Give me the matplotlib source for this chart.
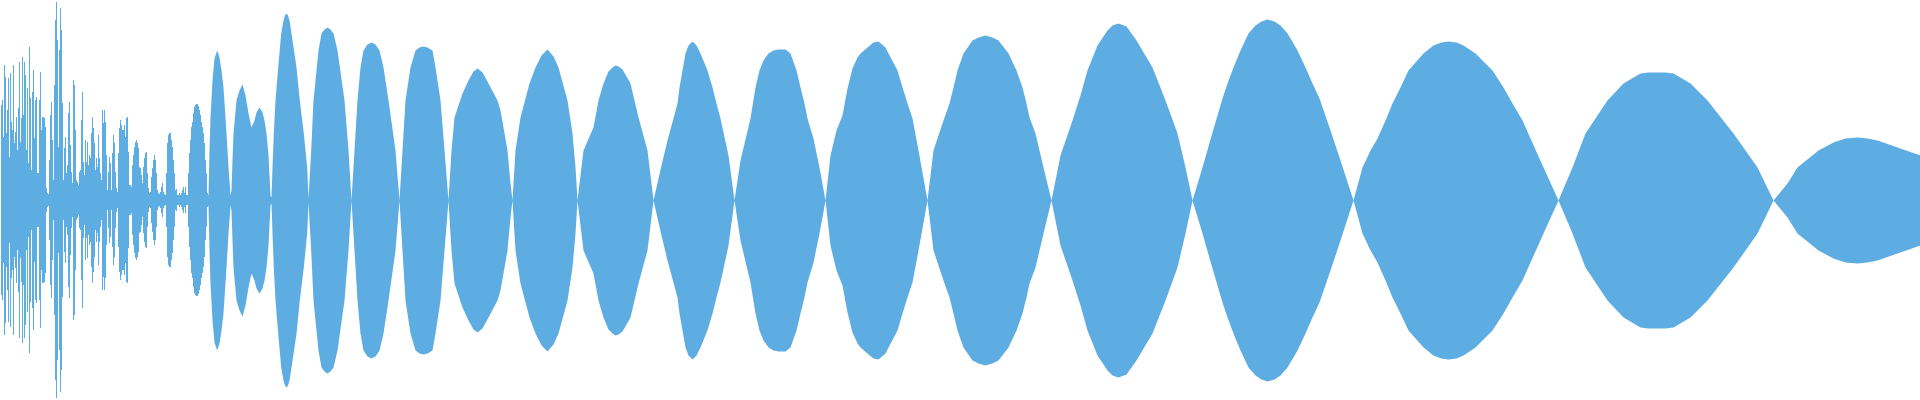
# waveform strip - mirrored amplitude envelope, no axes
# left part is raw per-column peaks, right part is the smooth lobes

import numpy as np
import matplotlib
matplotlib.use("Agg")
import matplotlib.pyplot as plt

WAVE_COLOR = "#5dade2"

# per-column peak amplitude for the first 208 columns (noisy onset)
column_amp = [
    55, 95, 100, 63, 135, 123, 67, 90, 122, 43, 127, 78, 70, 135, 57, 68, 83, 50, 92, 138,
    58, 82, 143, 85, 138, 125, 50, 112, 37, 153, 102, 30, 108, 130, 62, 100, 103, 27, 27, 100,
    128, 70, 83, 83, 82, 73, 12, 7, 6, 40, 85, 98, 60, 20, 115, 180, 198, 160, 53, 150,
    192, 170, 97, 20, 52, 63, 27, 35, 87, 98, 55, 28, 17, 120, 115, 70, 20, 18, 15, 28,
    30, 80, 108, 38, 25, 60, 38, 58, 35, 45, 42, 67, 83, 72, 57, 30, 42, 33, 65, 42,
    27, 20, 90, 77, 90,
    78, 45, 10, 28, 43, 37, 10, 47, 65, 57, 28, 12, 8, 47, 72, 80, 75, 70, 70, 75,
    63, 82, 83, 48, 15, 15, 13, 35, 45, 53, 58, 60, 57, 52, 33, 32, 25, 17, 33, 42,
    47, 48, 27, 12, 7, 8, 23, 32, 40, 45, 40, 27, 10, 7, 6, 8, 13, 17, 8, 6,
    5, 27, 57, 65, 67, 67, 60, 53, 40, 27, 10, 11, 5, 5, 7, 5, 7, 10, 13, 7,
    13, 5, 5, 27, 47, 60, 73, 78, 87, 93, 95, 96, 96, 94, 90, 85, 78, 73, 67, 57,
    40, 27, 7,
]

# smooth lobes: envelope points (column, amplitude)
lobe_x = [
    207, 208, 209, 210, 212, 214, 216.7, 219, 221, 223, 226, 228, 230,
    231, 232, 233, 236, 239, 242, 245, 248, 251, 254, 256, 259, 262, 264, 266, 268, 270,
    271, 272, 273.3, 275, 277.7, 280.7, 283, 284.5, 286, 287.5, 289, 291, 296, 299.3, 303.3, 306.7, 308,
    310.7, 313, 318, 321, 324, 327, 330, 333, 337, 344, 348, 351,
    354, 357, 360, 363, 367, 371, 375, 379, 383, 388, 395, 399,
    402, 405, 410, 415, 419, 423, 427, 432, 435, 440, 444, 448,
    451, 454, 462, 468, 473, 477, 482, 488, 497, 500, 507, 510, 512,
    515, 520, 529, 535, 541, 547, 553, 558, 567, 572, 575, 577,
    583, 593, 598, 603, 608, 612, 615, 618, 622, 630, 638, 647, 653,
    661, 667, 673, 677, 679, 682, 685, 688, 692, 696, 700, 707, 712, 716, 720, 728, 734,
    740, 750, 755, 759, 763, 768, 773, 778, 785, 790, 796, 800, 804, 807, 813, 819, 825,
    830, 836, 842, 847, 852, 857, 860, 867, 873, 878, 885, 888, 897, 902, 907, 912, 918, 927,
    933, 943, 949, 953, 957, 963, 972, 978, 985, 992, 998, 1008, 1016, 1022, 1026, 1029, 1035, 1043, 1051,
    1060, 1072, 1080, 1087, 1097, 1107, 1112, 1118, 1126, 1136, 1152, 1165, 1177, 1185, 1192,
    1202, 1212, 1222, 1227, 1233, 1240, 1248, 1255, 1261, 1267, 1274, 1280, 1287, 1297, 1305, 1312, 1319, 1330, 1340, 1353,
    1362, 1370, 1377, 1385, 1392, 1400, 1408, 1423, 1433, 1441, 1448, 1456, 1463, 1475, 1492, 1503, 1512, 1522, 1530, 1543, 1558,
    1572, 1585, 1607, 1623, 1640, 1648, 1657, 1665, 1673, 1690, 1707, 1733, 1757, 1773,
    1787, 1797, 1818, 1833, 1845, 1857, 1867, 1877, 1897, 1920,
]
lobe_amp = [
    7, 5, 50, 83, 120, 142, 150, 143, 130, 113, 67, 33, 5,
    10, 40, 67, 100, 110, 116, 105, 87, 73, 80, 88, 93, 88, 80, 67, 45, 5,
    3, 33, 67, 100, 133, 167, 180, 185, 187, 185, 180, 167, 133, 100, 67, 33, 2,
    50, 100, 150, 167, 171, 173, 171, 167, 150, 100, 50, 0,
    50, 100, 133, 150, 156, 158, 156, 150, 133, 100, 50, 0,
    50, 100, 133, 150, 153, 154, 153, 150, 133, 100, 50, 0,
    50, 83, 107, 120, 129, 132, 128, 117, 100, 90, 50, 17, 0,
    50, 83, 117, 133, 145, 151, 144, 133, 100, 67, 33, 0,
    50, 73, 100, 117, 129, 133, 135, 134, 131, 117, 83, 50, 0,
    35, 60, 82, 97, 113, 130, 147, 155, 159, 155, 147, 130, 113, 97, 82, 45, 0,
    40, 82, 113, 130, 140, 147, 150, 151, 151, 147, 130, 113, 97, 82, 62, 33, 0,
    45, 70, 85, 112, 132, 143, 147, 153, 158, 159, 153, 147, 130, 113, 97, 82, 50, 0,
    50, 80, 97, 113, 130, 147, 160, 163, 165, 163, 160, 147, 130, 113, 97, 83, 67, 33, 0,
    45, 80, 105, 130, 155, 170, 175, 177, 174, 160, 133, 100, 67, 33, 0,
    33, 68, 102, 117, 133, 150, 167, 175, 179, 181, 179, 175, 167, 150, 133, 117, 102, 70, 40, 0,
    33, 50, 62, 80, 97, 113, 130, 147, 155, 158, 159, 158, 155, 147, 130, 113, 97, 80, 62, 33, 0,
    33, 67, 100, 117, 127, 128, 128, 128, 127, 117, 100, 67, 33, 0,
    17, 33, 50, 58, 62, 63, 62, 60, 53, 45,
]

fig = plt.figure(figsize=(19.2, 4.0), dpi=100)
ax = fig.add_axes([0, 0, 1, 1])

col_x = np.arange(len(column_amp)) + 0.5
col_a = np.array(column_amp, dtype=float)
ax.fill_between(col_x, -col_a, col_a, step="mid", color=WAVE_COLOR, linewidth=0)

lx = np.array(lobe_x, dtype=float)
la = np.array(lobe_amp, dtype=float)
ax.fill_between(lx, -la, la, color=WAVE_COLOR, linewidth=0)

ax.set_xlim(0, 1920)
ax.set_ylim(-200, 200)
ax.axis("off")

fig.savefig("out.png", dpi=100, facecolor="white")
